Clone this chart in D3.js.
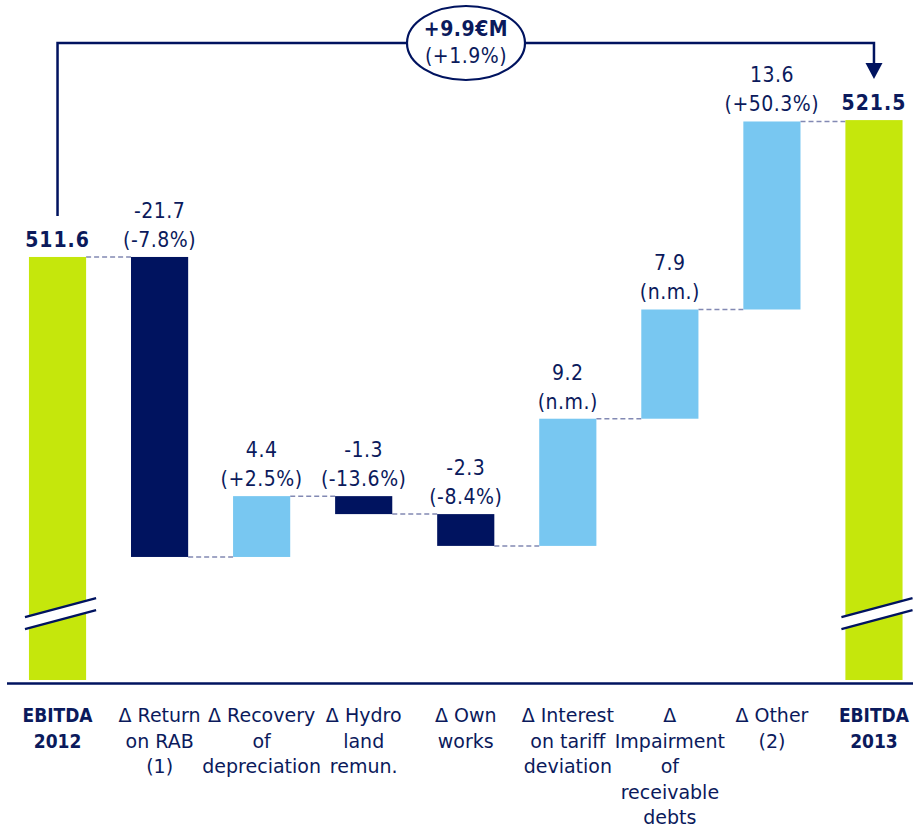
<!DOCTYPE html>
<html>
<head>
<meta charset="utf-8">
<script src="https://cdn.jsdelivr.net/npm/d3@7"></script>
<style>
  html, body { margin: 0; padding: 0; background: #fff; }
  svg { display: block; }
  text { font-family: "DejaVu Sans Condensed", "DejaVu Sans", sans-serif; fill: #0b1a5c; }
  text.cat { font-family: "DejaVu Sans", sans-serif; }
  text.cat.bold { font-family: "DejaVu Sans Condensed", "DejaVu Sans", sans-serif; font-weight: bold; }
</style>
</head>
<body>
<svg id="chart" width="913" height="827"></svg>
<script>
// ---- data ----
const categories = ["EBITDA 2012", "Δ Return on RAB (1)", "Δ Recovery of depreciation", "Δ Hydro land remun.", "Δ Own works", "Δ Interest on tariff deviation", "Δ Impairment of receivable debts", "Δ Other (2)", "EBITDA 2013"];
const categoryLines = [
  ["EBITDA", "2012"],
  ["Δ Return", "on RAB", "(1)"],
  ["Δ Recovery", "of", "depreciation"],
  ["Δ Hydro", "land", "remun."],
  ["Δ Own", "works"],
  ["Δ Interest", "on tariff", "deviation"],
  ["Δ", "Impairment", "of", "receivable", "debts"],
  ["Δ Other", "(2)"],
  ["EBITDA", "2013"]
];
const barTypes = ["total", "delta", "delta", "delta", "delta", "delta", "delta", "delta", "total"];
const values = [511.6, -21.7, 4.4, -1.3, -2.3, 9.2, 7.9, 13.6, 521.5];
const valueLabels = ["511.6", "-21.7", "4.4", "-1.3", "-2.3", "9.2", "7.9", "13.6", "521.5"];
const pctLabels = [null, "(-7.8%)", "(+2.5%)", "(-13.6%)", "(-8.4%)", "(n.m.)", "(n.m.)", "(+50.3%)", null];
const totalChangeLabels = ["+9.9€M", "(+1.9%)"];
const axisBreakValue = 485.8;   // where the broken axis mark is drawn
const yDomain = [481, 521.5];

// ---- layout ----
const NAVY = "#00135f", GREEN = "#c5e70c", LIGHT = "#78c7f1", DASH = "#8289b3";
const svg = d3.select("#chart");

const x = d3.scaleBand().domain(categories).range([6.5, 925]).paddingInner(0.44).paddingOuter(0.22);
const y = d3.scaleLinear().domain(yDomain).range([680, 120.1]);

// compute waterfall
let level = 0;
const bars = categories.map((c, i) => {
  let y0, y1, end;
  if (barTypes[i] === "total") {
    y0 = yDomain[0]; y1 = values[i]; end = values[i]; level = values[i];
  } else {
    y0 = level; y1 = level + values[i]; end = y1; level = y1;
  }
  return { c, i, lo: Math.min(y0, y1), hi: Math.max(y0, y1), end, type: barTypes[i], v: values[i] };
});

// connectors
const conn = svg.append("g");
bars.slice(0, -1).forEach((b, i) => {
  const nb = bars[i + 1];
  conn.append("line")
    .attr("x1", x(b.c) + x.bandwidth()).attr("x2", x(nb.c))
    .attr("y1", y(b.end)).attr("y2", y(b.end))
    .attr("stroke", DASH).attr("stroke-width", 1.5).attr("stroke-dasharray", "5,3");
});

// bars
svg.append("g").selectAll("rect").data(bars).join("rect")
  .attr("x", d => x(d.c)).attr("width", x.bandwidth())
  .attr("y", d => y(d.hi)).attr("height", d => y(d.lo) - y(d.hi))
  .attr("fill", d => d.type === "total" ? GREEN : (d.v < 0 ? NAVY : LIGHT));

// axis break marks on total bars
bars.filter(d => d.type === "total").forEach(d => {
  const xl = x(d.c) - 4, xr = x(d.c) + x.bandwidth() + 10;
  const yb = y(axisBreakValue);
  const rise = 19, gap = 12;
  const g = svg.append("g");
  g.append("path")
    .attr("d", `M${xl},${yb + gap / 2 + rise / 2} L${xr},${yb + gap / 2 - rise / 2} L${xr},${yb - gap / 2 - rise / 2} L${xl},${yb - gap / 2 + rise / 2} Z`)
    .attr("fill", "#fff");
  [-gap / 2, gap / 2].forEach(o => {
    g.append("line")
      .attr("x1", xl).attr("y1", yb + o + rise / 2)
      .attr("x2", xr).attr("y2", yb + o - rise / 2)
      .attr("stroke", NAVY).attr("stroke-width", 2.2);
  });
});

// x axis
const axis = svg.append("g").attr("transform", "translate(0,683)")
  .call(d3.axisBottom(x).tickSize(0).tickSizeOuter(0).tickFormat(""));
axis.select(".domain").attr("stroke", NAVY).attr("stroke-width", 2.5);
axis.selectAll(".tick text").remove();
axis.selectAll(".tick").each(function (c, i) {
  const t = d3.select(this).append("text")
    .attr("class", barTypes[i] === "total" ? "cat bold" : "cat")
    .attr("text-anchor", "middle")
    .style("font-size", "19px");
  categoryLines[i].forEach((ln, k) => {
    t.append("tspan").attr("x", 0).attr("y", 39 + k * 25.5).text(ln);
  });
});

// value labels
const lab = svg.append("g");
bars.forEach((d, i) => {
  const cx = x(d.c) + x.bandwidth() / 2;
  const top = y(d.hi);
  if (d.type === "total") {
    lab.append("text").attr("x", cx).attr("y", top - 10)
      .attr("text-anchor", "middle").style("font-size", "21px").style("font-weight", "bold")
      .style("letter-spacing", "1px")
      .text(valueLabels[i]);
  } else {
    lab.append("text").attr("x", cx).attr("y", top - 39)
      .attr("text-anchor", "middle").style("font-size", "21px").style("letter-spacing", "0.5px")
      .text(valueLabels[i]);
    lab.append("text").attr("x", cx).attr("y", top - 10)
      .attr("text-anchor", "middle").style("font-size", "21px").style("letter-spacing", "0.5px")
      .text(pctLabels[i]);
  }
});

// total change bracket
const first = bars[0], last = bars[bars.length - 1];
const xs = x(first.c) + x.bandwidth() / 2;
const xe = x(last.c) + x.bandwidth() / 2;
const yTop = 43;
const ecx = 466, erx = 59, ery = 37;
const br = svg.append("g");
br.append("path")
  .attr("d", `M${xs},${y(first.hi) - 41} V${yTop} H${ecx - erx}`)
  .attr("fill", "none").attr("stroke", NAVY).attr("stroke-width", 2.5);
br.append("path")
  .attr("d", `M${ecx + erx},${yTop} H${xe} V${64}`)
  .attr("fill", "none").attr("stroke", NAVY).attr("stroke-width", 2.5);
br.append("path")
  .attr("d", `M${xe - 8.5},${63} L${xe + 8.5},${63} L${xe},${79} Z`)
  .attr("fill", NAVY);
br.append("ellipse").attr("cx", ecx).attr("cy", yTop).attr("rx", erx).attr("ry", ery)
  .attr("fill", "#fff").attr("stroke", NAVY).attr("stroke-width", 2.2);
br.append("text").attr("x", ecx).attr("y", 36).attr("text-anchor", "middle")
  .style("font-size", "21px").style("font-weight", "bold").style("letter-spacing", "0.5px")
  .text(totalChangeLabels[0]);
br.append("text").attr("x", ecx).attr("y", 63).attr("text-anchor", "middle")
  .style("font-size", "21px").style("letter-spacing", "0.5px").text(totalChangeLabels[1]);
</script>
</body>
</html>
